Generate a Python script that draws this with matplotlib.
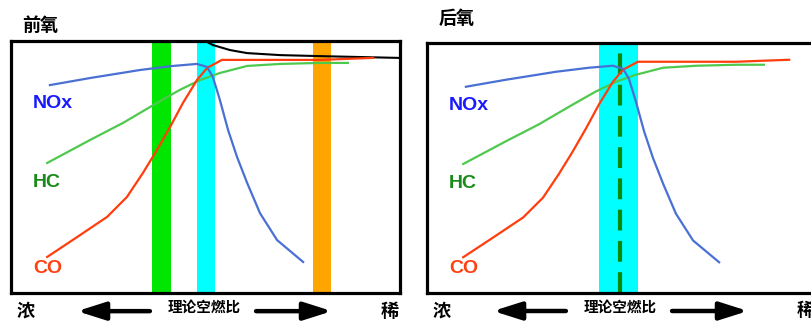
import matplotlib
matplotlib.use("Agg")
import matplotlib.pyplot as plt

plt.rcParams['font.family'] = ['Noto Sans CJK SC', 'DejaVu Sans']

# schematic curves, x / y in percent of the frame
nox_x = [10.0, 20.3, 33.2, 41.6, 47.8, 50.4, 51.9, 53.7, 55.8, 58.1, 60.7, 64.0, 68.4, 75.1]
nox_y = [82.5, 85.3, 88.5, 90.1, 90.9, 89.7, 85.7, 76.6, 64.7, 54.0, 43.7, 31.7, 21.0, 12.3]

hc_x = [9.3, 20.3, 28.8, 37.5, 43.4, 48.6, 53.7, 60.7, 69.2, 79.4, 86.6]
hc_y = [51.6, 60.7, 67.5, 75.4, 80.6, 84.5, 87.3, 90.1, 90.9, 91.3, 91.3]

co_x = [9.3, 17.0, 24.7, 29.8, 33.9, 37.5, 40.9, 44.2, 47.8, 50.4, 54.2, 79.4, 93.1]
co_y = [14.3, 22.2, 30.2, 38.1, 47.6, 56.7, 65.9, 75.4, 84.5, 89.3, 92.5, 92.5, 93.3]

o2_x = [48.0, 49.4, 51.9, 56.3, 60.7, 69.2, 79.4, 99.5]
o2_y = [101.5, 100.4, 98.4, 96.4, 95.2, 94.4, 94.0, 93.3]

# windows (x ranges)
front_bands = [(36.2, 41.1, '#00e600'), (47.8, 52.4, '#00ffff'), (77.6, 82.3, '#ffa500')]
rear_bands = [(44.2, 54.2, '#00ffff')]
rear_stoich = 49.6

labels = [('NOx', 75.0, '#1a1aff'), ('HC', 43.7, '#1a8a1a'), ('CO', 9.9, '#ff4010')]

W, H = 811, 323
fig = plt.figure(figsize=(W / 100, H / 100), dpi=100)
ax1 = fig.add_axes([11 / W, 30 / H, 389 / W, 252 / H])
ax2 = fig.add_axes([427 / W, 30 / H, 389 / W, 250 / H])


def panel(ax, title, ty, bands, black=False, dash=None):
    ax.set_xlim(0, 100)
    ax.set_ylim(0, 100)
    ax.set_xticks([])
    ax.set_yticks([])
    for s in ax.spines.values():
        s.set_linewidth(2.3)
        s.set_color('black')
    for a, b, c in bands:
        ax.axvspan(a, b, color=c, lw=0)
    if dash is not None:
        ax.axvline(dash, color='#0a8a0a', lw=3, ls=(0, (5, 2.5)))
    if black:
        ax.plot(o2_x, o2_y, color='black', lw=1.5)
    ax.plot(hc_x, hc_y, color='#4ec94e', lw=1.6)
    ax.plot(co_x, co_y, color='#ff3d0d', lw=1.6)
    ax.plot(nox_x, nox_y, color='#4a70d4', lw=1.6)
    for txt, y, c in labels:
        ax.text(5.6, y, txt, color=c, fontsize=14, fontweight='bold',
                family='Liberation Sans', va='center', ha='left')
    ax.text(0.03, ty, title, transform=ax.transAxes, fontsize=13,
            fontweight='bold', va='bottom', ha='left')
    ax.text(0.015, -0.072, '浓', transform=ax.transAxes, fontsize=13,
            fontweight='bold', va='center', ha='left', clip_on=False)
    ax.text(0.949, -0.072, '稀', transform=ax.transAxes, fontsize=13,
            fontweight='bold', va='center', ha='left', clip_on=False)
    ax.text(0.496, -0.055, '理论空燃比', transform=ax.transAxes, fontsize=10.5,
            fontweight='bold', va='center', ha='center')
    arw = dict(arrowstyle='-|>,head_length=0.85,head_width=0.27', lw=3.2,
               color='black', shrinkA=0, shrinkB=0, mutation_scale=20)
    ax.annotate('', xy=(0.170, -0.072), xytext=(0.357, -0.072),
                xycoords='axes fraction', arrowprops=arw)
    ax.annotate('', xy=(0.825, -0.072), xytext=(0.630, -0.072),
                xycoords='axes fraction', arrowprops=arw)


panel(ax1, '前氧', 1.024, front_bands, black=True)
panel(ax2, '后氧', 1.06, rear_bands, dash=rear_stoich)

fig.savefig('out.png', dpi=100)
